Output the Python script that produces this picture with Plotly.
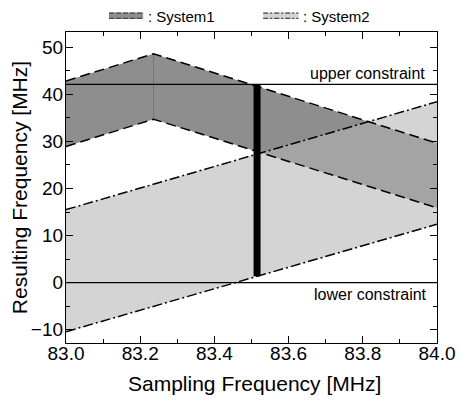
import numpy as np
import plotly.graph_objects as go

# ---- data ----
freq_s1 = [83.0, 83.236, 84.0]
s1_upper = [42.8, 48.6, 29.6]
s1_lower = [28.9, 34.7, 15.9]

freq_s2 = [83.0, 84.0]
s2_upper = [15.5, 38.4]
s2_lower = [-10.4, 12.4]

upper_constraint = 42.1
lower_constraint = 0.0
chosen_fs = 83.515

x_range = [83.0, 84.0]
y_range = [-12.8, 53.2]
x_ticks = [83.0, 83.2, 83.4, 83.6, 83.8, 84.0]
y_ticks = [-10, 0, 10, 20, 30, 40, 50]

FONT = "Liberation Sans"

fig = go.Figure()

# System1 band (opaque dark gray)
fig.add_trace(go.Scatter(
    x=freq_s1 + freq_s1[::-1], y=s1_upper + s1_lower[::-1],
    fill="toself", fillcolor="rgb(142,142,142)", line=dict(width=0),
    mode="lines", hoverinfo="skip", showlegend=False))
# vertical seam at the peak
fig.add_trace(go.Scatter(
    x=[freq_s1[1], freq_s1[1]], y=[s1_lower[1], s1_upper[1]],
    mode="lines", line=dict(color="rgb(118,118,118)", width=1),
    hoverinfo="skip", showlegend=False))
# System2 band (semi-transparent light gray on top)
fig.add_trace(go.Scatter(
    x=freq_s2 + freq_s2[::-1], y=s2_upper + s2_lower[::-1],
    fill="toself", fillcolor="rgba(180,180,180,0.575)", line=dict(width=0),
    mode="lines", hoverinfo="skip", showlegend=False))

# constraint lines
for yc in (upper_constraint, lower_constraint):
    fig.add_trace(go.Scatter(
        x=x_range, y=[yc, yc], mode="lines",
        line=dict(color="black", width=1.2), hoverinfo="skip", showlegend=False))

# boundary lines
dash1 = "10px,5px"
dash2 = "10px,3px,2px,3px"
for ys in (s1_upper, s1_lower):
    fig.add_trace(go.Scatter(x=freq_s1, y=ys, mode="lines",
                             line=dict(color="black", width=1.5, dash=dash1),
                             hoverinfo="skip", showlegend=False))
for ys in (s2_upper, s2_lower):
    fig.add_trace(go.Scatter(x=freq_s2, y=ys, mode="lines",
                             line=dict(color="black", width=1.5, dash=dash2),
                             hoverinfo="skip", showlegend=False))

# chosen sampling frequency bar
bar_bottom = float(np.interp(chosen_fs, freq_s2, s2_lower))
fig.add_trace(go.Scatter(x=[chosen_fs, chosen_fs], y=[bar_bottom, upper_constraint],
                         mode="lines", line=dict(color="black", width=7),
                         hoverinfo="skip", showlegend=False))

# constraint labels
fig.add_annotation(x=83.974, y=upper_constraint, text="upper constraint",
                   xanchor="right", yanchor="bottom", showarrow=False, yshift=0,
                   font=dict(family=FONT, size=16, color="black"))
fig.add_annotation(x=83.978, y=lower_constraint, text="lower constraint",
                   xanchor="right", yanchor="top", showarrow=False, yshift=-1,
                   font=dict(family=FONT, size=16, color="black"))

# custom legend above plot
def px_x(p):
    return (p - 66) / 380.0

def px_y(p):
    return (343 - p) / 311.0

legend_items = [("System1", 110, 145, "rgb(142,142,142)", "5px,2px"),
                ("System2", 268, 304, "rgb(212,212,212)", "5px,2px,2px,2px")]
for name, x0, x1, col, dsh in legend_items:
    fig.add_shape(type="rect", xref="paper", yref="paper",
                  x0=px_x(x0), x1=px_x(x1), y0=px_y(19), y1=px_y(12.5),
                  fillcolor=col, line=dict(width=0), layer="above")
    for yy in (13.2, 18.4):
        fig.add_shape(type="line", xref="paper", yref="paper",
                      x0=px_x(x0), x1=px_x(x1), y0=px_y(yy), y1=px_y(yy),
                      line=dict(color="rgb(70,70,70)", width=1.2, dash=dsh))
    fig.add_annotation(xref="paper", yref="paper", x=px_x(x1 + 3), y=px_y(16),
                       text=": " + name, xanchor="left", yanchor="middle",
                       showarrow=False, font=dict(family=FONT, size=15, color="black"))

# axis titles
fig.add_annotation(xref="paper", yref="paper", x=px_x(259), y=px_y(383),
                   text="Sampling Frequency [MHz]", xanchor="center", yanchor="middle",
                   showarrow=False, font=dict(family=FONT, size=21, color="black"))
fig.add_annotation(xref="paper", yref="paper", x=px_x(18), y=px_y(188),
                   text="Resulting Frequency [MHz]", textangle=-90,
                   xanchor="center", yanchor="middle",
                   showarrow=False, font=dict(family=FONT, size=21, color="black"))

axis_common = dict(showline=True, linecolor="black", linewidth=1.2, mirror="ticks",
                   ticks="inside", tickcolor="black", ticklen=7, tickwidth=1,
                   showgrid=False, zeroline=False,
                   tickfont=dict(family=FONT, size=19, color="black"))

fig.update_xaxes(range=x_range, tickvals=x_ticks, ticktext=[f"{v:.1f}" for v in x_ticks],
                 minor=dict(dtick=0.1, tick0=83.0, ticks="inside", ticklen=4, tickcolor="black"),
                 ticklabelstandoff=-7,
                 **axis_common)
fig.update_yaxes(range=y_range, tickvals=y_ticks, ticktext=[f"{v:d}".replace("-", "\u2212") for v in y_ticks],
                 minor=dict(dtick=5, tick0=0, ticks="inside", ticklen=4, tickcolor="black"),
                 ticklabelstandoff=-2,
                 **axis_common)

fig.update_layout(width=467, height=403, margin=dict(l=66, r=21, t=32, b=60),
                  paper_bgcolor="white", plot_bgcolor="white", showlegend=False,
                  font=dict(family=FONT, color="black"))

fig.write_html("out.html", config={"displayModeBar": False},
               post_script="document.body.style.margin='0';")
